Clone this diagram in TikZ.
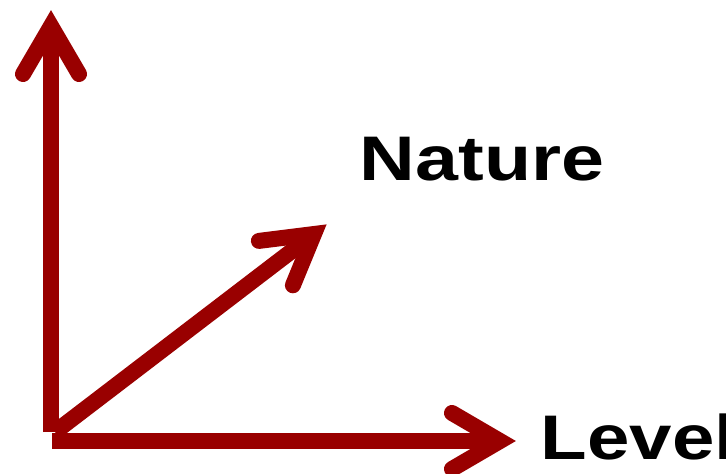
\documentclass[tikz,border=0pt]{standalone}
\usepackage{fontspec}
\newfontfamily\labelfont{Liberation Sans}
\definecolor{axisred}{RGB}{153,0,0}
\newcommand{\widelabel}[2]{\scalebox{#1}[1]{#2}}
\begin{document}
\begin{tikzpicture}[x=1pt,y=-1pt,
  axis/.style={draw=axisred,line width=16pt,line cap=butt},
  head/.style={draw=axisred,line width=16pt,line cap=round,line join=miter},
  lbl/.style={font=\labelfont\bfseries\fontsize{63pt}{70pt}\selectfont,inner sep=0pt,anchor=base west}]
\useasboundingbox (0,0) rectangle (726,474);
% origins
\coordinate (Ov) at (51,432);
\coordinate (Oh) at (52,441);
\coordinate (Od) at (55,432);
% vertical arrow
\coordinate (Vv) at (51,26);
\coordinate (Vl) at (23,74);
\coordinate (Vr) at (79,74);
% horizontal arrow
\coordinate (Hv) at (500,441);
\coordinate (Ht) at (452,413);
\coordinate (Hb) at (452,469);
% diagonal arrow
\coordinate (Dv) at (314,234);
\coordinate (Du) at (258.9,240.9);
\coordinate (Dd) at (292.9,285.3);
\draw[axis] (Ov) -- (Vv);
\draw[axis] (Oh) -- (Hv);
\draw[axis] (Od) -- (Dv);
\draw[head] (Vl) -- (Vv) -- (Vr);
\draw[head] (Ht) -- (Hv) -- (Hb);
\draw[head] (Du) -- (Dv) -- (Dd);
\node[lbl] (nature) at (359.5,180) {\widelabel{1.225}{Nature}};
\node[lbl] (level) at (540.5,459) {\widelabel{1.21}{Level}};
\end{tikzpicture}
\end{document}
